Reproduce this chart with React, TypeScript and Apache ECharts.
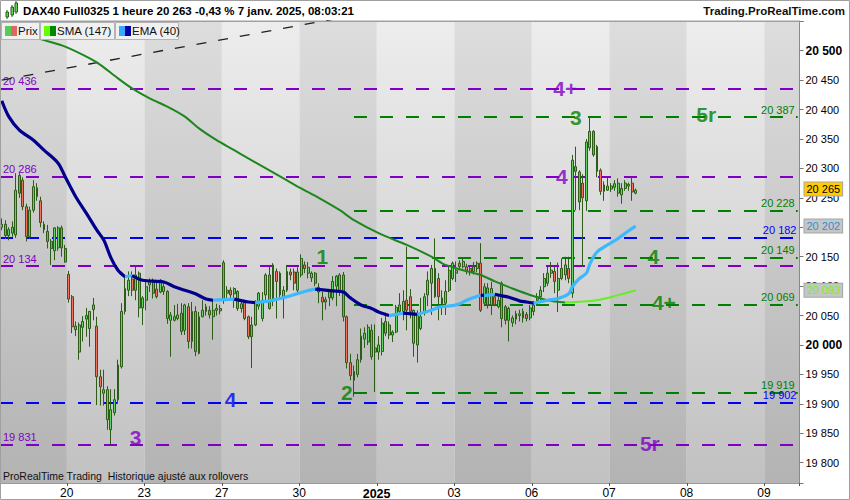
import React, { useEffect, useRef } from "react";
import * as echarts from "echarts";

const FONT = 'Arial, "Liberation Sans", sans-serif';

// ---- x axis: trading days and bars per day (hourly bars) ----
const dayLabels = ["19", "20", "23", "27", "30", "2025", "03", "06", "07", "08", "09"];
const dayBarCounts = [19, 22, 22, 22, 22, 22, 22, 22, 22, 22, 10];

// ---- candles: [open, close, low, high] ----
const candles: number[][] = [
  [20200, 20205, 20195, 20215], [20205, 20186, 20180, 20212], [20186, 20196, 20178, 20200], [20190, 20200, 20184, 20210],
  [20187, 20263, 20182, 20292], [20288, 20258, 20250, 20292], [20280, 20235, 20229, 20285], [20235, 20184, 20176, 20240],
  [20184, 20229, 20180, 20235], [20229, 20269, 20225, 20280], [20267, 20252, 20245, 20275], [20245, 20208, 20200, 20252],
  [20205, 20196, 20190, 20210], [20193, 20176, 20164, 20204], [20176, 20164, 20136, 20180], [20160, 20199, 20144, 20200],
  [20165, 20199, 20160, 20202], [20199, 20165, 20150, 20203], [20164, 20141, 20140, 20170],
  // Dec 20
  [20120, 20078, 20072, 20126], [20082, 20031, 20020, 20085], [20026, 20032, 20015, 20040], [19988, 20034, 19975, 20038],
  [20030, 20040, 20006, 20049], [20044, 20050, 20014, 20063], [20028, 20057, 19997, 20058], [20060, 20068, 20042, 20080],
  [20032, 19946, 19898, 20048], [19946, 19929, 19897, 19958], [19918, 19924, 19897, 19958], [19873, 19924, 19856, 19930],
  [19856, 19890, 19831, 19925], [19885, 19907, 19880, 19925], [19907, 19966, 19900, 19975], [19963, 20057, 19960, 20071],
  [20057, 20096, 20052, 20116], [20093, 20110, 20083, 20125], [20112, 20093, 20083, 20125], [20093, 20119, 20076, 20136],
  [20122, 20063, 20047, 20125], [20063, 20080, 20034, 20083],
  // Dec 23
  [20076, 20099, 20059, 20107], [20102, 20107, 20090, 20113], [20107, 20088, 20079, 20113], [20095, 20082, 20079, 20110],
  [20090, 20110, 20088, 20112], [20091, 20099, 20085, 20105], [20091, 20045, 20036, 20093], [20042, 20051, 19980, 20056],
  [20042, 20048, 20040, 20068], [20045, 20051, 20042, 20070], [20054, 20023, 20017, 20071], [20025, 20068, 20017, 20070],
  [20065, 20006, 19994, 20071], [20006, 20057, 19994, 20073], [20057, 19989, 19981, 20066], [19986, 20048, 19984, 20056],
  [20048, 20059, 20047, 20076], [20057, 20065, 20050, 20070], [20059, 20051, 20045, 20066], [20048, 20059, 20009, 20076],
  [20059, 20062, 20050, 20070], [20062, 20058, 20052, 20068],
  // Dec 27
  [20140, 20076, 20070, 20144], [20088, 20093, 20080, 20100], [20093, 20085, 20080, 20098], [20087, 20096, 20063, 20098],
  [20091, 20062, 20058, 20093], [20062, 20070, 20055, 20075], [20074, 20045, 20042, 20076], [20048, 20014, 20010, 20050],
  [20034, 20014, 19961, 20048], [20034, 20074, 20032, 20076], [20066, 20088, 20060, 20090], [20045, 20076, 20040, 20090],
  [20085, 20119, 20076, 20122], [20119, 20062, 20060, 20136], [20074, 20136, 20066, 20139], [20125, 20108, 20045, 20130],
  [20122, 20085, 20080, 20125], [20080, 20093, 20045, 20100], [20093, 20125, 20090, 20136], [20124, 20119, 20110, 20130],
  [20124, 20105, 20093, 20130], [20093, 20124, 20088, 20132],
  // Dec 30
  [20119, 20147, 20115, 20154], [20136, 20130, 20122, 20142], [20122, 20132, 20113, 20141], [20114, 20122, 20107, 20125],
  [20122, 20105, 20100, 20124], [20098, 20090, 20071, 20105], [20081, 20073, 20042, 20090], [20077, 20073, 20060, 20082],
  [20080, 20093, 20066, 20095], [20080, 20108, 20076, 20117], [20100, 20117, 20066, 20119], [20093, 20119, 20083, 20122],
  [20119, 20048, 20040, 20124], [20048, 19970, 19960, 20050], [19970, 19948, 19940, 19985], [19940, 19955, 19912, 19965],
  [19950, 19975, 19945, 19985], [19975, 20015, 19970, 20028], [20010, 20020, 19995, 20030], [20005, 20030, 20000, 20035],
  [20025, 19980, 19975, 20035], [19995, 19988, 19920, 20035],
  // Jan 2
  [19988, 20000, 19975, 20015], [19989, 20037, 19982, 20046], [20020, 20040, 20015, 20055], [20034, 20017, 20010, 20040],
  [20017, 20022, 20005, 20025], [20022, 20064, 20020, 20068], [20068, 20057, 20053, 20088], [20057, 20074, 20042, 20093],
  [20076, 20059, 20025, 20167], [20082, 20057, 20045, 20095], [20003, 20059, 19980, 20060], [20000, 20051, 19970, 20059],
  [20028, 20048, 20025, 20080], [20054, 20082, 20050, 20088], [20085, 20110, 20066, 20125], [20105, 20130, 20051, 20136],
  [20130, 20082, 20080, 20181], [20113, 20082, 20042, 20122], [20068, 20080, 20051, 20093], [20071, 20091, 20051, 20110],
  [20093, 20127, 20090, 20135], [20113, 20139, 20110, 20142],
  // Jan 3
  [20122, 20127, 20107, 20142], [20139, 20133, 20127, 20144], [20133, 20142, 20130, 20147], [20133, 20125, 20120, 20138],
  [20130, 20124, 20118, 20133], [20125, 20133, 20120, 20141], [20130, 20139, 20124, 20142], [20139, 20059, 20056, 20173],
  [20071, 20099, 20066, 20105], [20097, 20068, 20062, 20105], [20068, 20096, 20051, 20107], [20082, 20068, 20066, 20085],
  [20065, 20076, 20062, 20085], [20105, 20045, 20030, 20108], [20065, 20042, 20035, 20068], [20042, 20062, 20006, 20065],
  [20038, 20046, 20031, 20050], [20044, 20053, 20035, 20058], [20050, 20053, 20040, 20060], [20046, 20057, 20038, 20062],
  [20052, 20045, 20040, 20056], [20046, 20063, 20042, 20068],
  // Jan 6
  [20057, 20068, 20050, 20075], [20076, 20082, 20070, 20088], [20082, 20093, 20076, 20100], [20099, 20113, 20090, 20122],
  [20105, 20122, 20100, 20133], [20122, 20127, 20114, 20141], [20125, 20108, 20088, 20133], [20093, 20113, 20056, 20140],
  [20130, 20113, 20110, 20147], [20119, 20136, 20110, 20150], [20130, 20113, 20105, 20150], [20088, 20314, 20080, 20323],
  [20303, 20295, 20229, 20337], [20294, 20243, 20229, 20297], [20275, 20250, 20133, 20290], [20245, 20345, 20228, 20350],
  [20335, 20363, 20330, 20387], [20363, 20323, 20320, 20365], [20337, 20295, 20285, 20340], [20297, 20261, 20255, 20300],
  [20261, 20272, 20245, 20278], [20263, 20270, 20262, 20285],
  // Jan 7
  [20265, 20270, 20260, 20275], [20268, 20274, 20262, 20280], [20258, 20275, 20252, 20283], [20255, 20266, 20240, 20275],
  [20266, 20275, 20262, 20280], [20270, 20273, 20262, 20276], [20275, 20260, 20245, 20285], [20258, 20263, 20256, 20266],
];

// ---- indicator lines read at sample bars: [bar, value, trend of segment ending here] ----
const emaPoints: [number, number, string][] = [
  [0, 20415, "d"], [2, 20388, "d"], [5, 20365, "d"], [9, 20348, "d"], [12, 20331, "d"], [16, 20309, "d"],
  [18, 20286, "d"], [21, 20252, "d"], [24, 20224, "d"], [27, 20195, "d"], [29, 20178, "d"], [31, 20148, "d"],
  [33, 20127, "d"], [35, 20116, "d"], [37, 20118, "u"], [40, 20110, "d"], [46, 20107, "d"], [49, 20099, "d"],
  [52, 20093, "d"], [55, 20087, "d"], [58, 20078, "d"], [60, 20076, "d"], [63, 20077, "u"], [66, 20078, "u"],
  [70, 20073, "d"], [72, 20072, "d"], [76, 20075, "u"], [81, 20082, "u"], [86, 20091, "u"], [89, 20095, "u"],
  [94, 20092, "d"], [97, 20090, "d"], [99, 20080, "d"], [102, 20068, "d"], [105, 20062, "d"], [107, 20056, "d"],
  [110, 20050, "d"], [114, 20054, "u"], [118, 20052, "d"], [122, 20059, "u"], [124, 20064, "u"], [128, 20067, "u"],
  [130, 20070, "u"], [132, 20076, "u"], [136, 20085, "u"], [137, 20084, "d"], [140, 20086, "u"], [144, 20081, "d"],
  [147, 20075, "d"], [149, 20073, "d"], [151, 20071, "d"], [155, 20076, "u"], [158, 20079, "u"], [161, 20087, "u"],
  [162, 20099, "u"], [164, 20113, "u"], [166, 20122, "u"], [167, 20138, "u"], [169, 20158, "u"], [172, 20170, "u"],
  [175, 20181, "u"], [178, 20194, "u"], [180, 20202, "u"],
];
const smaPoints: [number, number, string][] = [
  [0, 20539, "d"], [12, 20518, "d"], [18, 20507, "d"], [25, 20487, "d"], [28, 20476, "d"], [33, 20453, "d"],
  [37, 20436, "d"], [42, 20419, "d"], [47, 20405, "d"], [52, 20388, "d"], [56, 20368, "d"], [61, 20348, "d"],
  [66, 20331, "d"], [70, 20317, "d"], [75, 20300, "d"], [80, 20283, "d"], [85, 20266, "d"], [90, 20250, "d"],
  [96, 20229, "d"], [100, 20212, "d"], [107, 20190, "d"], [115, 20170, "d"], [122, 20150, "d"], [126, 20136, "d"],
  [131, 20127, "d"], [136, 20119, "d"], [140, 20108, "d"], [145, 20096, "d"], [150, 20085, "d"], [155, 20076, "d"],
  [160, 20072, "d"], [165, 20074, "u"], [169, 20076, "u"], [174, 20083, "u"], [177, 20088, "u"], [180, 20093, "u"],
];

// black dashed trend line: [bar, price]
const trendLinePoints: [number, number][] = [[0, 20450], [100, 20560]];

// horizontal levels
const purpleLevels = [20436, 20286, 20134, 19831];
const blueLevels = [20182, 19902];
const greenLevels = [20387, 20228, 20149, 20069, 19919];
const greenStartBar = 100;

// wave labels: text, bar, price, family
const waveTexts = ["4+", "3", "5r", "4", "1", "4", "4+", "2", "4", "3", "5r"];
const waveBars = [160, 163, 200, 159, 91, 185, 188, 98, 65, 38, 184];
const wavePrices = [20436, 20387, 20392, 20286, 20150, 20150, 20073, 19920, 19907, 19842, 19832];
const waveFamilies = ["purple", "green", "green", "purple", "green", "green", "green", "green", "blue", "purple", "purple"];

// right-side price tags
const lastPriceTag = 20265;
const emaTag = 20202;
const smaTag = 20093;

const headerText = "DAX40 Full0325 1 heure 20 263 -0,43 % 7 janv. 2025, 08:03:21";
const siteText = "Trading.ProRealTime.com";
const legendTexts = ["Prix", "SMA (147)", "EMA (40)"];
const footerText = "ProRealTime Trading  Historique ajusté aux rollovers";

const PURPLE = "#7f00c4";
const BLUE = "#0000ff";
const GREEN = "#008000";
const famColor: Record<string, string> = { purple: PURPLE, green: GREEN, blue: BLUE };

function fmt(v: number): string {
  const s = String(Math.round(v));
  return s.length > 3 ? s.slice(0, s.length - 3) + " " + s.slice(-3) : s;
}

function segments(points: [number, number, string][]) {
  const segs: { t: string; data: number[][] }[] = [];
  let cur: { t: string; data: number[][] } | null = null;
  for (let k = 1; k < points.length; k++) {
    const t = points[k][2];
    if (!cur || cur.t !== t) {
      cur = { t, data: [[points[k - 1][0], points[k - 1][1]]] };
      segs.push(cur);
    }
    cur.data.push([points[k][0], points[k][1]]);
  }
  return segs;
}

export default function App() {
  const ref = useRef<HTMLDivElement>(null);

  useEffect(() => {
    if (!ref.current) return;
    const chart = echarts.init(ref.current, null, { renderer: "svg" });

    const categories: string[] = [];
    const dayStart = new Set<number>();
    dayLabels.forEach((d, k) => {
      if (k > 0) dayStart.add(categories.length);
      for (let j = 0; j < dayBarCounts[k]; j++) categories.push(d + "|" + j);
    });
    const lastCat = categories.length - 1;
    const isDayStart = (i: number) => dayStart.has(i);

    const darkBand = new echarts.graphic.LinearGradient(0, 0, 0, 1, [
      { offset: 0, color: "#dddddd" },
      { offset: 1, color: "#b3b3b3" },
    ]);
    const lightBand = new echarts.graphic.LinearGradient(0, 0, 0, 1, [
      { offset: 0, color: "#ededed" },
      { offset: 1, color: "#c1c1c1" },
    ]);

    const levelLabel = (color: string, pos: string, v: number) => ({
      show: true,
      position: pos,
      formatter: fmt(v),
      color,
      fontSize: 11,
      fontFamily: FONT,
      distance: [3, 2],
    });

    const markLineData: any[] = [];
    purpleLevels.forEach((v) =>
      markLineData.push({
        yAxis: v,
        lineStyle: { color: PURPLE, type: [13, 13], width: 2 },
        label: levelLabel(PURPLE, "insideStartTop", v),
      })
    );
    blueLevels.forEach((v) =>
      markLineData.push({
        yAxis: v,
        lineStyle: { color: BLUE, type: [13, 13], width: 2 },
        label: levelLabel(BLUE, "insideEndTop", v),
      })
    );
    greenLevels.forEach((v) =>
      markLineData.push([
        {
          coord: [categories[greenStartBar], v],
          lineStyle: { color: GREEN, type: [13, 13], width: 2 },
          label: levelLabel(GREEN, "insideEndTop", v),
        },
        { coord: [categories[lastCat], v] },
      ])
    );
    const tag = (v: number, bg: string, color: string) => ({
      yAxis: v,
      lineStyle: { color: "rgba(0,0,0,0)", width: 0 },
      label: {
        show: true,
        position: "end",
        formatter: fmt(v),
        color,
        backgroundColor: bg,
        borderColor: "#a6a6a6",
        borderWidth: 1,
        padding: [1, 2, 0, 2],
        fontSize: 11,
        lineHeight: 12,
        fontFamily: FONT,
        distance: 5,
      },
    });
    markLineData.push(tag(lastPriceTag, "#ffcc00", "#000000"));
    markLineData.push(tag(emaTag, "#c6c6c6", "#2f8fd8"));
    markLineData.push(tag(smaTag, "#c6c6c6", "#70f030"));

    const series: any[] = [
      {
        type: "candlestick",
        data: candles,
        barWidth: 2.4,
        z: 2,
        itemStyle: {
          color: "#62d462",
          color0: "#f0735f",
          borderColor: "#2c5c18",
          borderColor0: "#2c5c18",
          borderWidth: 1,
        },
        markLine: {
          silent: true,
          animation: false,
          symbol: ["none", "none"],
          z: 1,
          data: markLineData,
        },
      },
      {
        type: "line",
        data: trendLinePoints,
        showSymbol: false,
        symbol: "none",
        clip: true,
        z: 3,
        lineStyle: { color: "#1e1e1e", width: 1.3, type: [10, 12] },
      },
    ];
    segments(smaPoints).forEach((s) =>
      series.push({
        type: "line",
        data: s.data,
        symbol: "none",
        smooth: 0.3,
        z: 3,
        lineStyle: { color: s.t === "d" ? "#1e861e" : "#66ee22", width: 2 },
      })
    );
    segments(emaPoints).forEach((s) =>
      series.push({
        type: "line",
        data: s.data,
        symbol: "none",
        smooth: 0.3,
        z: 4,
        lineStyle: { color: s.t === "d" ? "#00008c" : "#3cb8ff", width: 3.2 },
      })
    );
    series.push({
      type: "scatter",
      symbolSize: 1,
      z: 6,
      itemStyle: { color: "rgba(0,0,0,0)" },
      data: waveTexts.map((t, k) => ({
        value: [waveBars[k], wavePrices[k]],
        label: { formatter: t, color: famColor[waveFamilies[k]] },
      })),
      label: {
        show: true,
        position: "inside",
        fontSize: 21,
        fontWeight: "bold",
        fontFamily: FONT,
      },
    });

    const legendBoxes = [
      { x: 1, w: 38, c1: "#55cc55", c2: "#e06666" },
      { x: 40, w: 74, c1: "#66ff00", c2: "#008800" },
      { x: 115, w: 63, c1: "#33aaff", c2: "#0000aa" },
    ];
    const graphic: any[] = [];
    graphic.push({
      type: "line",
      z: 50,
      shape: { x1: 0, y1: 21.5, x2: 800, y2: 21.5 },
      style: { stroke: "#a0a0a0", lineWidth: 1 },
    });
    [
      { x: 6, y: 12, h: 5, wy1: 10, wy2: 19 },
      { x: 11, y: 7, h: 8, wy1: 5, wy2: 17 },
      { x: 15, y: 3, h: 9, wy1: 1, wy2: 14 },
    ].forEach((c) => {
      graphic.push({
        type: "line",
        z: 60,
        shape: { x1: c.x + 1, y1: c.wy1, x2: c.x + 1, y2: c.wy2 },
        style: { stroke: "#2c5c18", lineWidth: 1 },
      });
      graphic.push({
        type: "rect",
        z: 61,
        shape: { x: c.x, y: c.y, width: 2.5, height: c.h },
        style: { fill: "#62d462", stroke: "#2c5c18", lineWidth: 1 },
      });
    });
    graphic.push({
      type: "text",
      z: 60,
      x: 23,
      y: 11,
      style: { text: headerText, fill: "#000", fontSize: 11.5, fontWeight: "bold", fontFamily: FONT, verticalAlign: "middle" },
    });
    graphic.push({
      type: "text",
      z: 60,
      x: 845,
      y: 11,
      style: { text: siteText, fill: "#111", fontSize: 11.5, fontWeight: "bold", fontFamily: FONT, align: "right", verticalAlign: "middle" },
    });
    legendBoxes.forEach((b, k) => {
      graphic.push({
        type: "rect",
        z: 100,
        shape: { x: b.x + 0.5, y: 22.5, width: b.w, height: 17 },
        style: { fill: "#f0f0f0", stroke: "#b4b4b4", lineWidth: 1 },
      });
      graphic.push({
        type: "rect",
        z: 101,
        shape: { x: b.x + 4, y: 26, width: 6, height: 10 },
        style: { fill: b.c1 },
      });
      graphic.push({
        type: "rect",
        z: 101,
        shape: { x: b.x + 10, y: 26, width: 6, height: 10 },
        style: { fill: b.c2 },
      });
      graphic.push({
        type: "text",
        z: 101,
        x: b.x + 17,
        y: 31,
        style: { text: legendTexts[k], fill: "#111", fontSize: 11.5, fontFamily: FONT, verticalAlign: "middle" },
      });
    });
    graphic.push({
      type: "text",
      z: 60,
      x: 3,
      y: 476,
      style: { text: footerText, fill: "#111", fontSize: 10.5, fontFamily: FONT, verticalAlign: "middle" },
    });
    graphic.push({
      type: "rect",
      z: 120,
      shape: { x: 0.5, y: 0.5, width: 849, height: 499 },
      style: { fill: "none", stroke: "#a0a0a0", lineWidth: 1 },
    });

    const option: any = {
      animation: false,
      textStyle: { fontFamily: FONT },
      grid: {
        left: 0,
        right: 50.5,
        top: 21,
        bottom: 17,
        show: true,
        borderColor: "#a0a0a0",
        borderWidth: 1,
        backgroundColor: "transparent",
      },
      xAxis: {
        type: "category",
        data: categories,
        boundaryGap: true,
        axisLine: { show: true, lineStyle: { color: "#9a9a9a" } },
        axisTick: { show: true, interval: isDayStart, length: 3, lineStyle: { color: "#555" } },
        axisLabel: {
          interval: isDayStart,
          color: "#000",
          fontSize: 12,
          margin: 4,
          padding: [0, 4, 0, 0],
          fontFamily: FONT,
          formatter: (v: string) => {
            const d = v.split("|")[0];
            return d === "2025" ? "{b|" + d + "}" : d;
          },
          rich: { b: { fontWeight: "bold", fontSize: 12.5, fontFamily: FONT, color: "#000" } },
        },
        splitLine: { show: false },
        splitArea: { show: true, interval: isDayStart, areaStyle: { color: [darkBand, lightBand] } },
      },
      yAxis: {
        type: "value",
        position: "right",
        min: 19765.5,
        max: 20550.5,
        minInterval: 50,
        maxInterval: 50,
        splitNumber: 15,
        axisLine: { show: true, lineStyle: { color: "#8a8a8a" } },
        axisTick: { show: true, length: 4, lineStyle: { color: "#777" } },
        splitLine: { show: false },
        splitArea: { show: false },
        axisLabel: {
          margin: 6,
          color: "#000",
          formatter: (v: number) => {
            const r = Math.round(v);
            if (Math.abs(v - r) > 0.01 || r % 50 !== 0 || r > 20500 || r < 19800) return "";
            return r % 500 === 0 ? "{b|" + fmt(r) + "}" : "{r|" + fmt(r) + "}";
          },
          rich: {
            b: { fontWeight: "bold", fontSize: 12, fontFamily: FONT, color: "#000" },
            r: { fontSize: 11, fontFamily: FONT, color: "#000" },
          },
        },
      },
      series,
      graphic,
    };

    chart.setOption(option);
    return () => chart.dispose();
  }, []);

  return (
    <div
      ref={ref}
      style={{ position: "absolute", left: 0, top: 0, width: 850, height: 500, background: "#ffffff" }}
    />
  );
}
